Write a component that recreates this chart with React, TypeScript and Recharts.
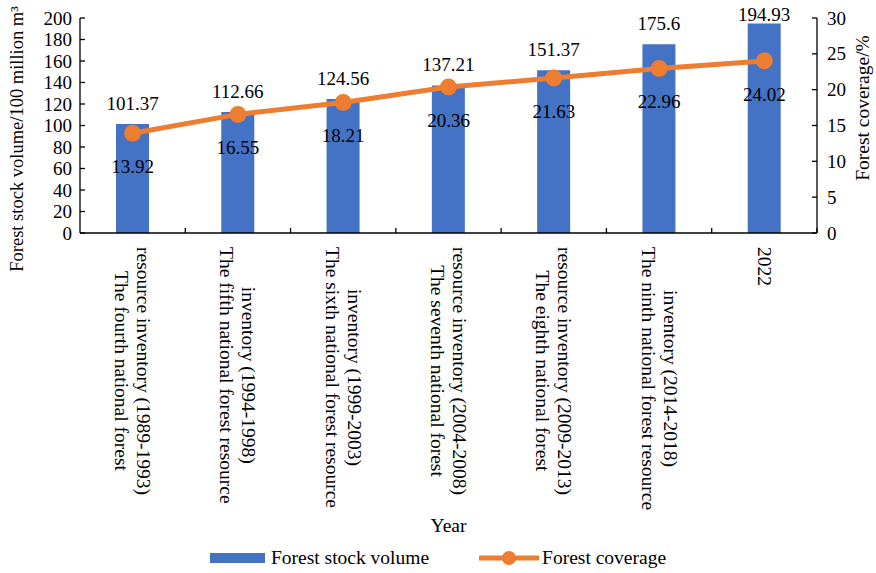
import React from "react";
import { ComposedChart, Bar, Line, XAxis, YAxis, Legend, LabelList, Label } from "recharts";

const categories = [
  "The fourth national forest\nresource inventory (1989-1993)",
  "The fifth national forest resource\ninventory (1994-1998)",
  "The sixth national forest resource\ninventory (1999-2003)",
  "The seventh national forest\nresource inventory (2004-2008)",
  "The eighth national forest\nresource inventory (2009-2013)",
  "The ninth national forest resource\ninventory (2014-2018)",
  "2022",
];
const stockVolume = [101.37, 112.66, 124.56, 137.21, 151.37, 175.6, 194.93];
const coverage = [13.92, 16.55, 18.21, 20.36, 21.63, 22.96, 24.02];
const leftTicks = [0, 20, 40, 60, 80, 100, 120, 140, 160, 180, 200];
const rightTicks = [0, 5, 10, 15, 20, 25, 30];

const data = categories.map((name, i) => ({ name, stock: stockVolume[i], coverage: coverage[i] }));

const FONT = '"Liberation Serif", "Times New Roman", serif';
const BLUE = "#4472C4";
const ORANGE = "#ED7D31";

let ctx: CanvasRenderingContext2D | null = null;
function measure(text: string, size: number) {
  if (!ctx) ctx = document.createElement("canvas").getContext("2d");
  if (!ctx) return text.length * size * 0.45;
  ctx.font = `${size}px ${FONT}`;
  return ctx.measureText(text).width;
}

// rotated category labels, lines centred along a block that starts under the axis
const XTick = (props: any) => {
  const { x, y, payload } = props;
  const lines: string[] = String(payload.value).split("\n");
  const size = 19.5;
  const block = Math.max(...lines.map((l) => measure(l, size)));
  const half = payload.offset || 52.6;
  const n = lines.length;
  return (
    <g>
      <line x1={x + half} x2={x + half} y1={y - 14} y2={y - 19} stroke="#000" strokeWidth={1.3} />
      <g transform={`translate(${x},${y}) rotate(90)`}>
        {lines.map((l, i) => {
          const dx = (i - (n - 1) / 2) * 22;
          return (
            <text key={i} x={block / 2} y={-dx} textAnchor="middle" dominantBaseline="central"
              fontFamily={FONT} fontSize={size} fill="#000">
              {l}
            </text>
          );
        })}
      </g>
    </g>
  );
};

const LeftTick = (props: any) => {
  const { x, y, payload } = props;
  return (
    <g>
      <line x1={x + 8} x2={x + 13} y1={y} y2={y} stroke="#000" strokeWidth={1.3} />
      <text x={x} y={y} dy="0.35em" textAnchor="end" fontFamily={FONT} fontSize={19} fill="#000">
        {payload.value}
      </text>
    </g>
  );
};

const RightTick = (props: any) => {
  const { x, y, payload } = props;
  return (
    <g>
      <line x1={x - 10} x2={x - 15} y1={y} y2={y} stroke="#000" strokeWidth={1.3} />
      <text x={x} y={y} dy="0.35em" textAnchor="start" fontFamily={FONT} fontSize={19} fill="#000">
        {payload.value}
      </text>
    </g>
  );
};

const BarValue = (props: any) => {
  const { x, y, width, value } = props;
  const cy = Math.max(y - 21, 14);
  return (
    <text x={x + width / 2} y={cy} dy="0.35em" textAnchor="middle" fontFamily={FONT} fontSize={19} fill="#000">
      {value}
    </text>
  );
};

const LineValue = (props: any) => {
  const { x, y, value } = props;
  return (
    <text x={x} y={y + 33} dy="0.35em" textAnchor="middle" fontFamily={FONT} fontSize={19} fill="#000">
      {value}
    </text>
  );
};

const LegendContent = () => (
  <div style={{ display: "flex", justifyContent: "center", alignItems: "center", height: 30, fontFamily: FONT, fontSize: 19.5, color: "#000" }}>
    <span style={{ display: "inline-block", width: 55, height: 10, background: BLUE, marginRight: 6 }} />
    <span>Forest stock volume</span>
    <svg width={60} height={20} style={{ marginLeft: 50, marginRight: 3 }}>
      <line x1={0} x2={60} y1={10} y2={10} stroke={ORANGE} strokeWidth={5} strokeLinecap="round" />
      <circle cx={30} cy={10} r={7} fill={ORANGE} />
    </svg>
    <span>Forest coverage</span>
  </div>
);

export default function App() {
  return (
    <div style={{ position: "absolute", left: 0, top: 0, width: 876, height: 573, background: "#fff" }}>
      <ComposedChart width={876} height={573} data={data} margin={{ top: 18, right: 0, bottom: 0, left: 0 }}>
        <XAxis dataKey="name" interval={0} tickLine={false} tickSize={0} tickMargin={14} height={310}
          axisLine={{ stroke: "#000", strokeWidth: 1.3 }} tick={<XTick />}>
          <Label position="insideBottom" offset={11} value="Year" fontFamily={FONT} fontSize={19.5} fill="#000" />
        </XAxis>
        <YAxis yAxisId="left" width={80} domain={[0, 200]} ticks={leftTicks} interval={0} tickLine={false}
          tickSize={0} tickMargin={8} axisLine={{ stroke: "#000", strokeWidth: 1.3 }} tick={<LeftTick />}>
          <Label content={() => (
            <text x={17} y={139} transform="rotate(-90 17 139)" textAnchor="middle" dominantBaseline="central"
              fontFamily={FONT} fontSize={18.5} fill="#000">
              Forest stock volume/100 million m³
            </text>
          )} />
        </YAxis>
        <YAxis yAxisId="right" orientation="right" width={59} domain={[0, 30]} ticks={rightTicks} interval={0}
          tickLine={false} tickSize={0} tickMargin={10} axisLine={{ stroke: "#000", strokeWidth: 1.3 }} tick={<RightTick />}>
          <Label content={() => (
            <text x={862} y={108} transform="rotate(-90 862 108)" textAnchor="middle" dominantBaseline="central"
              fontFamily={FONT} fontSize={19.5} fill="#000">
              Forest coverage/%
            </text>
          )} />
        </YAxis>
        <Legend verticalAlign="bottom" height={30} content={<LegendContent />} />
        <Bar yAxisId="left" dataKey="stock" name="Forest stock volume" fill={BLUE} barSize={33} isAnimationActive={false}>
          <LabelList dataKey="stock" content={<BarValue />} />
        </Bar>
        <Line yAxisId="right" dataKey="coverage" name="Forest coverage" stroke={ORANGE} strokeWidth={5}
          dot={{ r: 8.5, fill: ORANGE, stroke: ORANGE, strokeWidth: 0 }} activeDot={false} isAnimationActive={false}>
          <LabelList dataKey="coverage" content={<LineValue />} />
        </Line>
      </ComposedChart>
    </div>
  );
}
